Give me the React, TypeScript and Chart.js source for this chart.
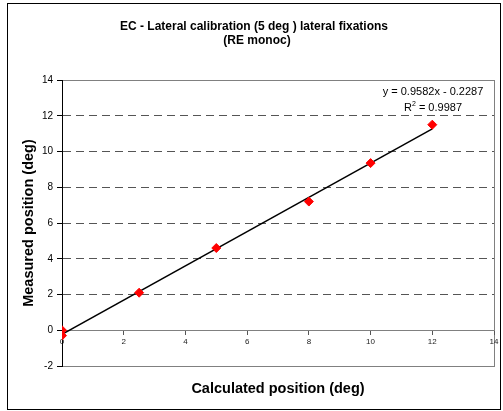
import React, { useEffect, useRef } from "react";
import { Chart, registerables } from "chart.js";

Chart.register(...registerables);

const titleLines = ["EC - Lateral calibration (5 deg ) lateral fixations", "(RE monoc)"];
const xAxisTitle = "Calculated position (deg)";
const yAxisTitle = "Measured position (deg)";

const calculatedX = [0, 0, 2.5, 5, 8, 10, 12];
const measuredY = [0, -0.3, 2.1, 4.6, 7.2, 9.35, 11.5];

const trendSlope = 0.9582;
const trendIntercept = -0.2287;
const trendXRange = [0, 12];
const equationText = "y = 0.9582x - 0.2287";
const r2Text = "0.9987";

const xMin = 0;
const xMax = 14;
const xStep = 2;
const yMin = -2;
const yMax = 14;
const yStep = 2;

const FONT = "'Liberation Sans', Arial, sans-serif";

export default function App() {
  const ref = useRef<HTMLCanvasElement | null>(null);

  useEffect(() => {
    const canvas = ref.current;
    if (!canvas) return;

    const points = calculatedX.map((x, i) => ({ x, y: measuredY[i] }));
    const trend = trendXRange.map((x) => ({ x, y: trendSlope * x + trendIntercept }));

    const decor = {
      id: "decor",
      beforeDraw(chart: any) {
        const { ctx, chartArea } = chart;
        ctx.save();
        ctx.fillStyle = "#ffffff";
        ctx.fillRect(0, 0, chart.width, chart.height);
        ctx.strokeStyle = "#000000";
        ctx.lineWidth = 1;
        ctx.strokeRect(7.5, 3.5, 493, 406);
        // title
        ctx.fillStyle = "#000000";
        ctx.font = `bold 12px ${FONT}`;
        ctx.textAlign = "center";
        ctx.textBaseline = "middle";
        ctx.fillText(titleLines[0], 254, 27);
        ctx.fillText(titleLines[1], 257, 41);
        // plot border
        ctx.strokeStyle = "#808080";
        ctx.strokeRect(
          Math.round(chartArea.left) + 0.5,
          Math.round(chartArea.top) + 0.5,
          Math.round(chartArea.right - chartArea.left),
          Math.round(chartArea.bottom - chartArea.top)
        );
        ctx.restore();
      },
      afterDatasetsDraw(chart: any) {
        const { ctx, chartArea } = chart;
        ctx.save();
        ctx.fillStyle = "#000000";
        ctx.font = `11px ${FONT}`;
        ctx.textBaseline = "middle";
        ctx.textAlign = "center";
        const cx = chartArea.right - 61;
        ctx.fillText(equationText, cx, chartArea.top + 12);
        const rest = " = " + r2Text;
        const wR = ctx.measureText("R").width;
        ctx.font = `7px ${FONT}`;
        const w2 = ctx.measureText("2").width;
        ctx.font = `11px ${FONT}`;
        const wRest = ctx.measureText(rest).width;
        const total = wR + w2 + wRest;
        const x0 = cx - total / 2;
        const y = chartArea.top + 28;
        ctx.textAlign = "left";
        ctx.fillText("R", x0, y);
        ctx.font = `7px ${FONT}`;
        ctx.fillText("2", x0 + wR, y - 4);
        ctx.font = `11px ${FONT}`;
        ctx.fillText(rest, x0 + wR + w2, y);
        ctx.restore();
      },
    };

    const chart = new Chart(canvas, {
      type: "scatter",
      data: {
        datasets: [
          {
            type: "line",
            label: "trend",
            data: trend,
            borderColor: "#000000",
            borderWidth: 1.5,
            pointRadius: 0,
            fill: false,
            order: 2,
          },
          {
            label: "measured",
            data: points,
            pointStyle: "rectRot",
            pointRadius: 4.5,
            backgroundColor: "#ff0000",
            borderColor: "#ff0000",
            borderWidth: 1,
            order: 1,
          },
        ],
      },
      options: {
        animation: false,
        responsive: false,
        maintainAspectRatio: false,
        layout: { padding: { left: 7, right: 9, top: 80, bottom: 0 } },
        plugins: {
          legend: { display: false },
          tooltip: { enabled: false },
          title: { display: false },
        },
        scales: {
          x: {
            type: "linear",
            position: { y: 0 },
            min: xMin,
            max: xMax,
            ticks: {
              stepSize: xStep,
              font: { family: FONT, size: 8 },
              color: "#222222",
              padding: 3,
              maxRotation: 0,
            },
            grid: {
              display: true,
              drawOnChartArea: false,
              drawTicks: true,
              tickLength: 4,
              tickColor: "#555555",
            },
            border: { display: true, color: "#808080", width: 1 },
            afterFit(scale: any) {
              scale.paddingLeft = 0;
              scale.paddingRight = 0;
            },
          },
          x2: {
            type: "linear",
            position: "bottom",
            min: xMin,
            max: xMax,
            ticks: { display: false },
            grid: { display: false, drawTicks: false },
            border: { display: false },
            title: {
              display: true,
              text: xAxisTitle,
              font: { family: FONT, size: 14.5, weight: "bold" },
              color: "#000000",
              padding: { top: 0, bottom: 13 },
            },
            afterFit(scale: any) {
              scale.height = 45;
              scale.paddingLeft = 0;
              scale.paddingRight = 0;
            },
          },
          y: {
            type: "linear",
            position: "left",
            min: yMin,
            max: yMax,
            ticks: {
              stepSize: yStep,
              font: { family: FONT, size: 10 },
              color: "#000000",
              padding: 4,
            },
            grid: {
              display: true,
              drawTicks: true,
              tickLength: 5,
              tickColor: "#000000",
              lineWidth: 1,
              color: (ctx: any) => {
                const v = ctx.tick ? ctx.tick.value : null;
                if (v === null || v <= 0 || v >= yMax) return "rgba(0,0,0,0)";
                return "#555555";
              },
            },
            border: { display: true, color: "#000000", width: 1, dash: [8, 5] },
            title: {
              display: true,
              text: yAxisTitle,
              font: { family: FONT, size: 14.5, weight: "bold" },
              color: "#000000",
              padding: { top: 13, bottom: 0 },
            },
            afterFit(scale: any) {
              scale.width = 55;
            },
          },
        },
      },
      plugins: [decor],
    } as any);

    return () => chart.destroy();
  }, []);

  return (
    <div style={{ position: "absolute", left: 0, top: 0, width: 503, height: 411 }}>
      <canvas ref={ref} width={503} height={411} style={{ display: "block", width: 503, height: 411 }} />
    </div>
  );
}
